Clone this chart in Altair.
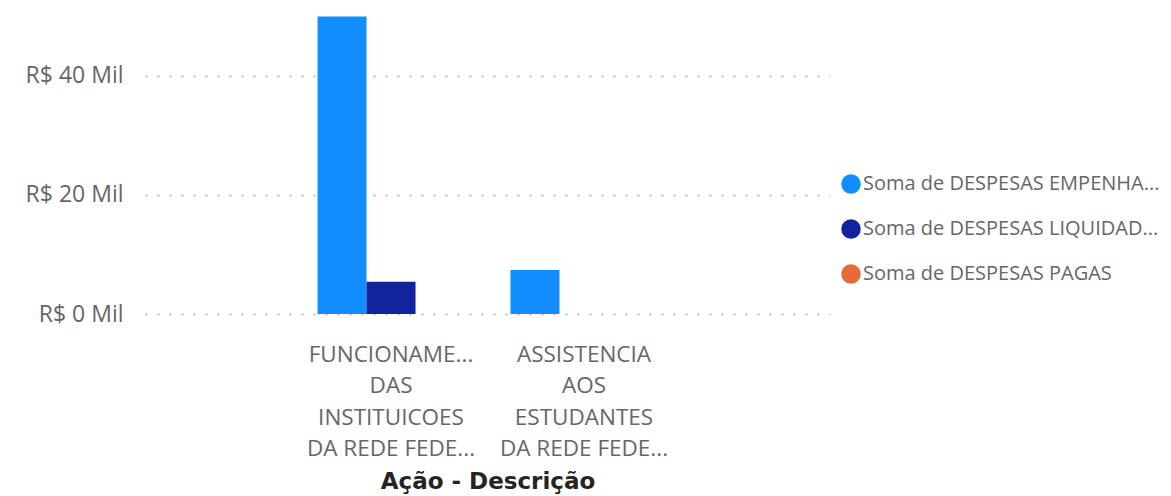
import altair as alt
import pandas as pd

categories = [
    "FUNCIONAME...\nDAS\nINSTITUICOES\nDA REDE FEDE...",
    "ASSISTENCIA\nAOS\nESTUDANTES\nDA REDE FEDE...",
]
series = [
    "Soma de DESPESAS EMPENHA...",
    "Soma de DESPESAS LIQUIDAD...",
    "Soma de DESPESAS PAGAS",
]
colors = ["#118DFF", "#12239E", "#E66C37"]
empenhadas = [49.9, 7.4]
liquidadas = [5.4, 0.0]
pagas = [0.0, 0.0]

rows = []
for i, c in enumerate(categories):
    for s, vals in zip(series, [empenhadas, liquidadas, pagas]):
        rows.append({"acao": c, "serie": s, "valor": vals[i]})
df = pd.DataFrame(rows)

FONT = "Open Sans"

chart = alt.Chart(df).mark_bar().encode(
    x=alt.X("acao:N", sort=categories, title="Ação - Descrição",
            scale=alt.Scale(paddingInner=0.238, paddingOuter=0.894),
            axis=alt.Axis(labelAngle=0, labelExpr="split(datum.label, '\\n')",
                          labelFont=FONT, labelFontSize=22.5, labelColor="#666666",
                          labelLineHeight=31.5, labelPadding=29, ticks=False, domain=False,
                          titleFont="DejaVu Sans", titleFontSize=23, titleFontWeight="bold",
                          titleColor="#252423", titlePadding=10)),
    xOffset=alt.XOffset("serie:N", sort=series, scale=alt.Scale(paddingInner=0, paddingOuter=0)),
    y=alt.Y("valor:Q", title=None,
            scale=alt.Scale(domain=[0, 51], nice=False),
            axis=alt.Axis(values=[0, 20, 40], labelExpr="'R$ ' + datum.value + ' Mil'",
                          labelFont=FONT, labelFontSize=23, labelColor="#666666",
                          labelPadding=22, ticks=False, domain=False,
                          grid=True, gridColor="#BDBDBD", gridDash=[2, 10], gridWidth=2)),
    color=alt.Color("serie:N", sort=series, scale=alt.Scale(domain=series, range=colors),
                    legend=alt.Legend(title=None, orient="none", legendX=696, legendY=164,
                                      symbolType="circle", symbolSize=380, symbolStrokeWidth=0,
                                      labelFont=FONT, labelFontSize=20, labelColor="#666666",
                                      labelOffset=2, rowPadding=25, labelLimit=400)),
).properties(
    width=685, height=304,
    autosize=alt.AutoSizeParams(type="none"),
    padding={"left": 137, "top": 2, "right": 333, "bottom": 182},
).configure_view(stroke=None)

chart.save("out.html", embed_options={"renderer": "svg", "actions": False})
